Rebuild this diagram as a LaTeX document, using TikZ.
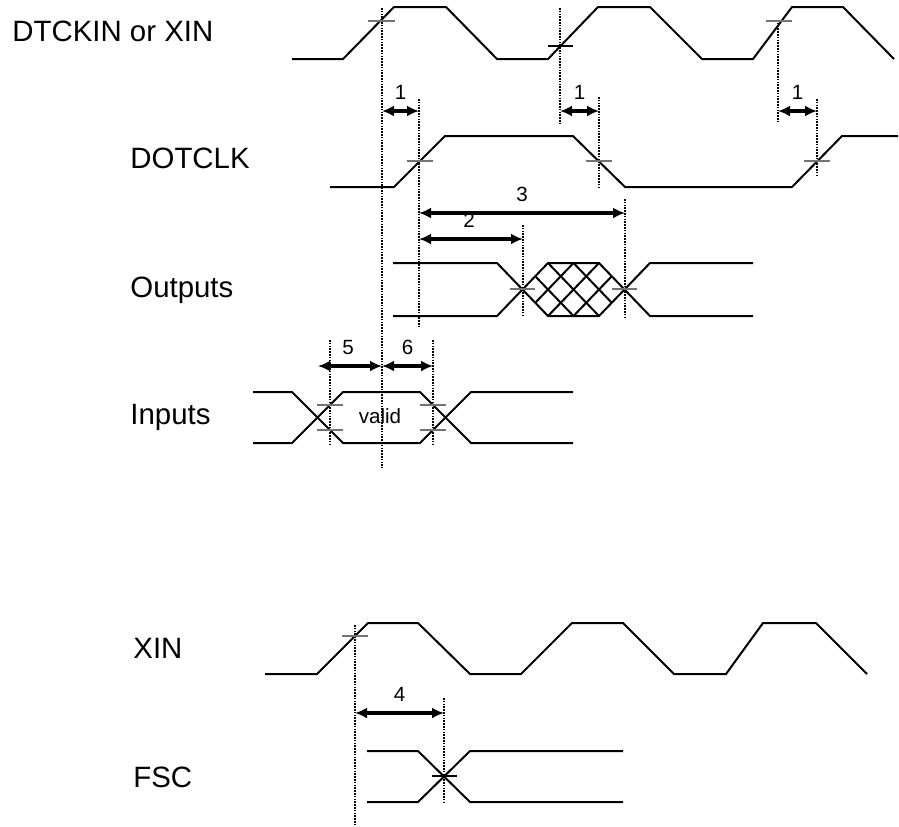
\documentclass[tikz,border=0pt]{standalone}
\usepackage{fontspec}
\setmainfont{Liberation Sans}
\usetikzlibrary{arrows.meta}
\tikzset{>={Latex[length=6pt,width=5.5pt]}}

\begin{document}
\begin{tikzpicture}[x=0.5pt,y=-0.5pt,
    wave/.style={line width=1pt},
    guide/.style={dash pattern=on 0.8pt off 0.6pt,line width=0.85pt},
    dim/.style={<->,line width=1.6pt},
    crosstick/.style={line width=0.6pt,black!55},
    sig/.style={anchor=base west,inner sep=0pt,font=\fontsize{14.7}{17}\selectfont},
    num/.style={inner sep=0pt,font=\fontsize{10.3}{12}\selectfont}]
  \useasboundingbox (0,0) rectangle (899,826);

  % signal names
  \node[sig] (dtckin) at (12,41) {DTCKIN or XIN};
  \node[sig] (dotclk) at (130,168) {DOTCLK};
  \node[sig] (outputs) at (130,297) {Outputs};
  \node[sig] (inputs) at (130,424) {Inputs};
  \node[sig] (xin) at (133,658) {XIN};
  \node[sig] (fsc) at (133,787) {FSC};

  % clocks
  \draw[wave] (292,59) -- (343,59) -- (394,7) -- (446,7) -- (497,59) -- (548,59) -- (598,7)
    -- (650,7) -- (702,59) -- (753,59) -- (792,7) -- (843,7) -- (894,59);
  \draw[wave] (330,187) -- (394,187) -- (445,136) -- (573,136) -- (625,187) -- (792,187)
    -- (842,136) -- (898,136);
  \draw[wave] (265,674) -- (317,674) -- (368,623) -- (418,623) -- (470,674) -- (521,674) -- (572,623)
    -- (623,623) -- (674,674) -- (726,674) -- (763,623) -- (816,623) -- (867,674);

  % outputs
  \draw[wave] (393,263) -- (497,263) -- (548,316) -- (599,316) -- (650,263) -- (753,263);
  \draw[wave] (393,316) -- (497,316) -- (548,263) -- (599,263) -- (650,316) -- (753,316);
  \begin{scope}
    \clip (523,289) -- (548,263) -- (599,263) -- (625,289) -- (599,316) -- (548,316) -- cycle;
    \foreach \x in {522.5,548,573.5} {
      \draw[wave] (\x,263) -- ++(51,53);
      \draw[wave] (\x+51,263) -- ++(-51,53);
    }
  \end{scope}

  % inputs
  \draw[wave] (253,392) -- (292,392) -- (343,443) -- (420,443) -- (471,392) -- (573,392);
  \draw[wave] (253,443) -- (292,443) -- (343,392) -- (420,392) -- (471,443) -- (573,443);
  \node[num] (valid) at (380,416) {valid};

  % fsc
  \draw[wave] (367,751) -- (418,751) -- (470,802) -- (623,802);
  \draw[wave] (367,802) -- (418,802) -- (470,751) -- (623,751);

  % reference lines
  \draw[guide] (382,8) -- (382,468);
  \draw[guide] (560,8) -- (560,123);
  \draw[guide] (778,20) -- (778,123);
  \draw[guide] (419,99) -- (419,328);
  \draw[guide] (599,97) -- (599,188);
  \draw[guide] (817,99) -- (817,175);
  \draw[guide] (523,225) -- (523,317);
  \draw[guide] (625,199) -- (625,317);
  \draw[guide] (330,340) -- (330,445);
  \draw[guide] (433,340) -- (433,445);
  \draw[guide] (355,625) -- (355,825);
  \draw[guide] (444,698) -- (444,803);

  % crossing marks
  \draw[crosstick] (368,21) -- (395,21);
  \draw[crosstick,black] (548,46) -- (573,46);
  \draw[crosstick] (766,21) -- (792,21);
  \draw[crosstick] (407,161) -- (433,161);
  \draw[crosstick] (586,161) -- (612,161);
  \draw[crosstick] (804,161) -- (830,161);
  \draw[crosstick] (510,289) -- (535,289);
  \draw[crosstick] (612,289) -- (637,289);
  \draw[crosstick] (317,405) -- (343,405);
  \draw[crosstick] (317,430) -- (343,430);
  \draw[crosstick] (420,405) -- (446,405);
  \draw[crosstick] (420,430) -- (446,430);
  \draw[crosstick] (342,636) -- (368,636);
  \draw[crosstick,black] (432,776) -- (457,776);

  % timing parameters
  \draw[dim] (382,111) -- node[num,above=5pt] (t1a) {1} (419,111);
  \draw[dim] (560,111) -- node[num,above=5pt] (t1b) {1} (599,111);
  \draw[dim] (778,111) -- node[num,above=5pt] (t1c) {1} (817,111);
  \draw[dim] (419,213) -- node[num,above=5pt] (t3) {3} (625,213);
  \draw[dim] (419,239) -- node[num,above=5pt,xshift=-1pt] (t2) {2} (523,239);
  \draw[dim] (318,366) -- node[num,above=5pt,xshift=-1pt] (t5) {5} (382,366);
  \draw[dim] (382,366) -- node[num,above=5pt] (t6) {6} (433,366);
  \draw[dim] (355,713) -- node[num,above=5pt] (t4) {4} (444,713);
\end{tikzpicture}
\end{document}
